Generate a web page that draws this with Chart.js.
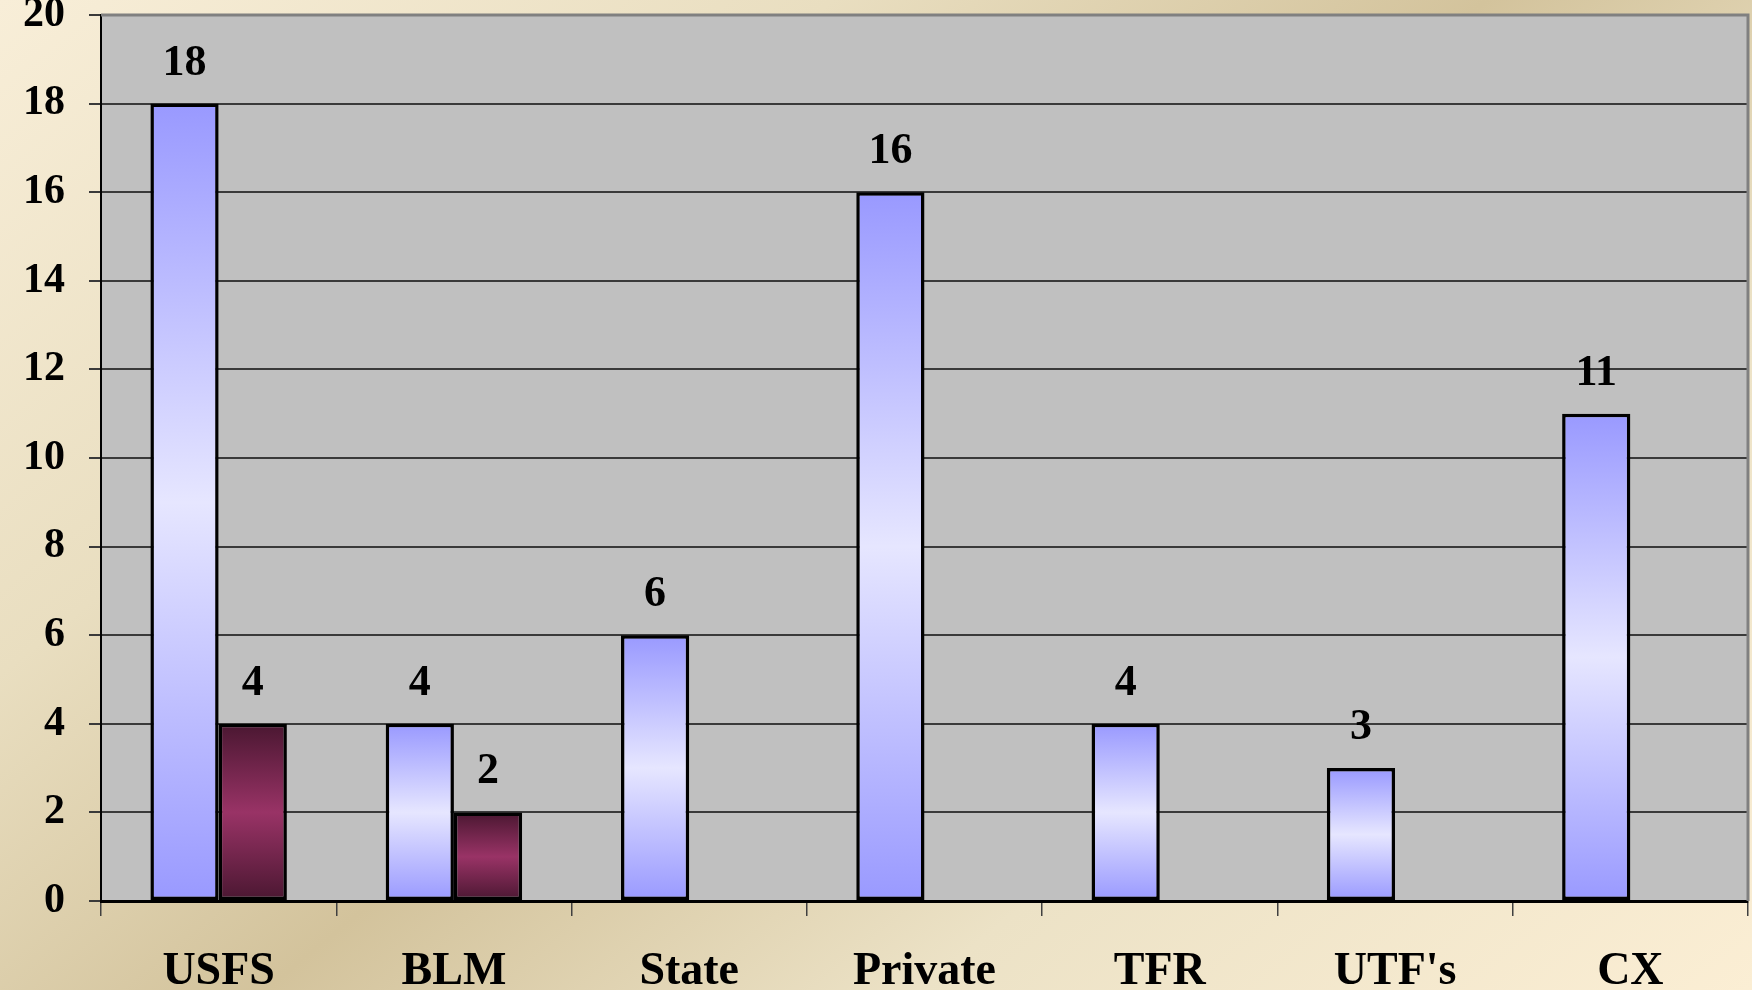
<!DOCTYPE html>
<html lang="en">
<head>
    <meta charset="UTF-8">
    <title>Agency chart</title>
    <script src="https://cdn.jsdelivr.net/npm/chart.js"></script>
    <style>
        html, body {
            margin: 0;
            padding: 0;
            width: 1752px;
            height: 990px;
            overflow: hidden;
            background: linear-gradient(141deg, #f8eed8 0%, #e9dec0 28%, #d3c39c 50%, #ece2c6 72%, #fbeed4 100%);
        }
        canvas { display: block; }
    </style>
</head>
<body>
    <canvas id="grafico" width="1752" height="990"></canvas>

    <script>
        const categorias = ['USFS', 'BLM', 'State', 'Private', 'TFR', "UTF's", 'CX'];
        const serieAzul = [18, 4, 6, 16, 4, 3, 11];
        const serieVinho = [4, 2, null, null, null, null, null];
        const ticksY = [0, 2, 4, 6, 8, 10, 12, 14, 16, 18, 20];

        const coresAzul = ['#9999ff', '#e6e6ff', '#9999ff'];
        const coresVinho = ['#4a1731', '#993366', '#4a1731'];

        function gradienteBarra(c, cores) {
            const chart = c.chart;
            const y = chart.scales.y;
            if (!y || c.raw == null || !chart.chartArea) return cores[1];
            const topo = y.getPixelForValue(c.raw);
            const base = y.getPixelForValue(0);
            const g = chart.ctx.createLinearGradient(0, topo, 0, base);
            g.addColorStop(0, cores[0]);
            g.addColorStop(0.5, cores[1]);
            g.addColorStop(1, cores[2]);
            return g;
        }

        const fundoPlot = {
            id: 'fundoPlot',
            beforeDraw(chart) {
                const a = chart.chartArea;
                const ctx = chart.ctx;
                ctx.save();
                ctx.fillStyle = '#c0c0c0';
                ctx.fillRect(a.left, a.top, a.right - a.left, a.bottom - a.top);
                ctx.restore();
            },
            afterDraw(chart) {
                const a = chart.chartArea;
                const ctx = chart.ctx;
                ctx.save();
                ctx.strokeStyle = '#808080';
                ctx.lineWidth = 3;
                ctx.beginPath();
                ctx.moveTo(a.left, a.top);
                ctx.lineTo(a.right, a.top);
                ctx.lineTo(a.right, a.bottom);
                ctx.stroke();
                ctx.restore();
            }
        };

        const rotulosValor = {
            id: 'rotulosValor',
            afterDatasetsDraw(chart) {
                const ctx = chart.ctx;
                ctx.save();
                ctx.font = 'bold 44px "Liberation Serif"';
                ctx.fillStyle = '#000';
                ctx.textAlign = 'center';
                ctx.textBaseline = 'alphabetic';
                chart.data.datasets.forEach((ds, i) => {
                    const meta = chart.getDatasetMeta(i);
                    meta.data.forEach((bar, j) => {
                        const v = ds.data[j];
                        if (v == null) return;
                        ctx.fillText(String(v), bar.x, bar.y - 29);
                    });
                });
                ctx.restore();
            }
        };

        const ctx = document.getElementById('grafico').getContext('2d');
        const grafico = new Chart(ctx, {
            type: 'bar',
            data: {
                labels: categorias,
                datasets: [
                    {
                        data: serieAzul,
                        backgroundColor: c => gradienteBarra(c, coresAzul),
                        borderColor: '#000',
                        borderWidth: 3.5,
                        borderSkipped: false
                    },
                    {
                        data: serieVinho,
                        backgroundColor: c => gradienteBarra(c, coresVinho),
                        borderColor: '#000',
                        borderWidth: 3.5,
                        borderSkipped: false
                    }
                ]
            },
            options: {
                responsive: false,
                devicePixelRatio: 1,
                animation: false,
                datasets: {
                    bar: { categoryPercentage: 0.58, barPercentage: 1 }
                },
                layout: { padding: { top: 15, right: 4, left: 0, bottom: 0 } },
                plugins: {
                    legend: { display: false },
                    tooltip: { enabled: false }
                },
                scales: {
                    x: {
                        afterFit(s) {
                            s.height = 89;
                            s.paddingLeft = 0;
                            s.paddingRight = 0;
                        },
                        grid: {
                            offset: true,
                            drawOnChartArea: false,
                            tickLength: 15,
                            color: '#404040',
                            lineWidth: 1.5
                        },
                        border: { color: '#000', width: 3 },
                        ticks: {
                            color: '#000',
                            padding: 33,
                            font: { family: 'Liberation Serif', weight: 'bold', size: 46, lineHeight: 1 }
                        }
                    },
                    y: {
                        min: 0,
                        max: 20,
                        afterFit(s) {
                            s.width = 101;
                            s.paddingTop = 0;
                            s.paddingBottom = 0;
                        },
                        afterBuildTicks(s) { s.ticks = ticksY.map(v => ({ value: v })); },
                        grid: {
                            color: '#3a3a3a',
                            lineWidth: 2,
                            tickLength: 12
                        },
                        border: { color: '#000', width: 2 },
                        ticks: {
                            color: '#000',
                            padding: 24,
                            font: { family: 'Liberation Serif', weight: 'bold', size: 42 }
                        }
                    }
                }
            },
            plugins: [fundoPlot, rotulosValor]
        });
    </script>
</body>
</html>
